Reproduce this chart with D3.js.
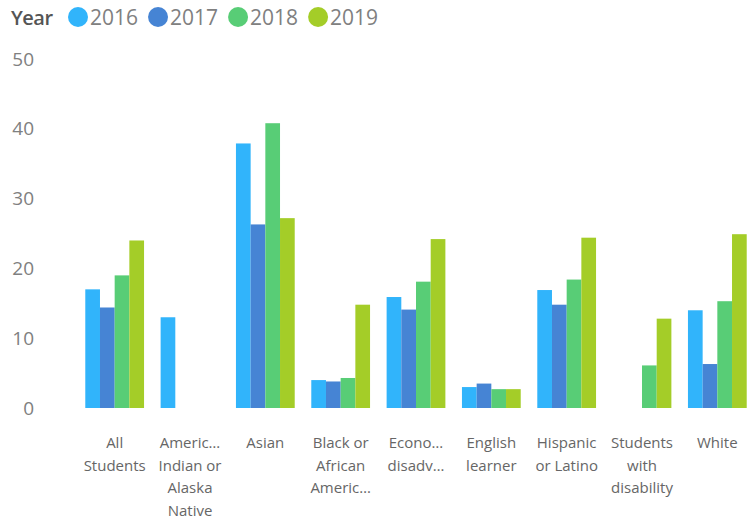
<!DOCTYPE html>
<html>
<head>
<meta charset="utf-8">
<script src="https://cdn.jsdelivr.net/npm/d3@7"></script>
<style>
  html, body { margin: 0; padding: 0; background: #fff; }
  svg { display: block; font-family: "Open Sans", "Segoe UI", sans-serif; }
</style>
</head>
<body>
<svg id="chart" width="752" height="519"></svg>
<script>
// Student groups (label lines as shown on the axis)
const categories = [
  "All Students",
  "American Indian or Alaska Native",
  "Asian",
  "Black or African American",
  "Economically disadvantaged",
  "English learner",
  "Hispanic or Latino",
  "Students with disability",
  "White"
];
const categoryLabels = [
  ["All", "Students"],
  ["Americ…", "Indian or", "Alaska", "Native"],
  ["Asian"],
  ["Black or", "African", "Americ…"],
  ["Econo…", "disadv…"],
  ["English", "learner"],
  ["Hispanic", "or Latino"],
  ["Students", "with", "disability"],
  ["White"]
];
const years = ["2016", "2017", "2018", "2019"];
const colors = ["#31B4FB", "#4684D4", "#58CD76", "#A4CD28"];

// Values per year, in category order (null = no data)
const values2016 = [17.0, 13.0, 37.9, 4.0, 15.9, 3.0, 16.9, null, 14.0];
const values2017 = [14.4, null, 26.3, 3.8, 14.1, 3.5, 14.8, null, 6.3];
const values2018 = [19.0, null, 40.8, 4.3, 18.1, 2.7, 18.4, 6.1, 15.3];
const values2019 = [24.0, null, 27.2, 14.8, 24.2, 2.7, 24.4, 12.8, 24.9];
const series = [values2016, values2017, values2018, values2019];

const yTicks = [0, 10, 20, 30, 40, 50];

const svg = d3.select("#chart");

const x0 = d3.scaleBand().domain(categories).range([77, 755])
  .paddingInner(0.22).paddingOuter(0.11);
const x1 = d3.scaleBand().domain(years).range([0, x0.bandwidth()]).padding(0);
const y = d3.scaleLinear().domain([0, 50]).range([408, 59]);
const color = d3.scaleOrdinal().domain(years).range(colors);

// Y axis labels
const yAxis = d3.axisLeft(y).tickValues(yTicks).tickSize(0).tickPadding(0);
const yg = svg.append("g").attr("transform", "translate(34,0)").call(yAxis);
yg.select(".domain").remove();
yg.selectAll("text")
  .attr("fill", "#808080")
  .style("font-size", "19px")
  .style("font-family", "'Open Sans', sans-serif");

// Bars
const rows = categories.map((c, i) => ({
  category: c,
  bars: years.map((yr, j) => ({ year: yr, value: series[j][i] }))
}));

const groups = svg.append("g").selectAll("g")
  .data(rows).join("g")
  .attr("transform", d => `translate(${x0(d.category)},0)`);

groups.selectAll("rect")
  .data(d => d.bars.filter(b => b.value != null))
  .join("rect")
  .attr("x", d => x1(d.year))
  .attr("width", x1.bandwidth())
  .attr("y", d => y(d.value))
  .attr("height", d => y(0) - y(d.value))
  .attr("fill", d => color(d.year));

// X axis labels (wrapped lines)
const xg = svg.append("g");
categories.forEach((c, i) => {
  const t = xg.append("text")
    .attr("x", x0(c) + x0.bandwidth() / 2)
    .attr("y", 448)
    .attr("text-anchor", "middle")
    .attr("fill", "#666")
    .style("font-size", "15px");
  categoryLabels[i].forEach((line, k) => {
    t.append("tspan")
      .attr("x", x0(c) + x0.bandwidth() / 2)
      .attr("dy", k === 0 ? 0 : 22.5)
      .text(line);
  });
});

// Legend
const legend = svg.append("g");
legend.append("text")
  .attr("x", 11).attr("y", 25)
  .attr("fill", "#555")
  .style("font-size", "20px")
  .style("font-weight", "600")
  .style("letter-spacing", "-0.5px")
  .text("Year");

let lx = 68;
years.forEach(yr => {
  legend.append("circle")
    .attr("cx", lx + 10).attr("cy", 17).attr("r", 10)
    .attr("fill", color(yr));
  const t = legend.append("text")
    .attr("x", lx + 22).attr("y", 25)
    .attr("fill", "#808080")
    .style("font-size", "21px")
    .text(yr);
  lx += 22 + t.node().getComputedTextLength() + 10;
});
</script>
</body>
</html>
